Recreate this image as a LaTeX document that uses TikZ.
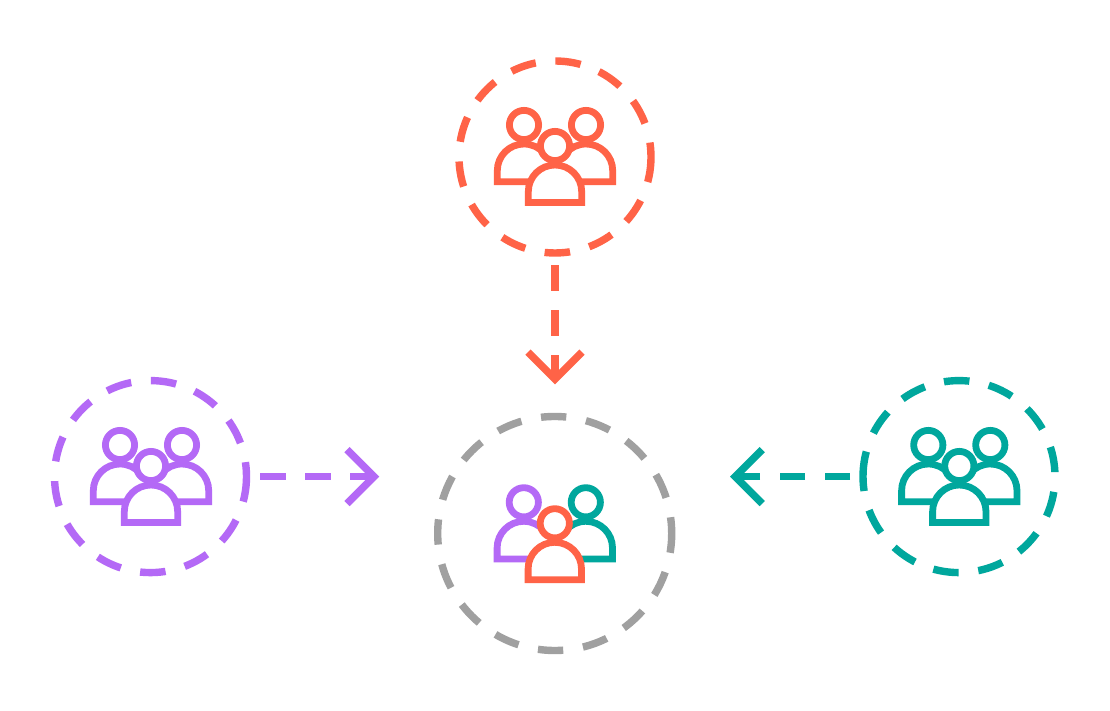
\documentclass[tikz,border=0pt]{standalone}
\usetikzlibrary{arrows.meta}
\definecolor{coral}{HTML}{FF6347}
\definecolor{violet}{HTML}{B469F6}
\definecolor{sea}{HTML}{00A79D}
\definecolor{stone}{HTML}{A0A0A0}
\tikzset{
  x=1pt,y=1pt,
  ring/.style={circle,draw=#1,line width=7.4pt,inner sep=0pt,outer sep=0pt,minimum size=192pt,
    dash pattern=on 25.5pt off 19.8pt,dash phase=11pt},
  bigring/.style={circle,draw=#1,line width=7.4pt,inner sep=0pt,outer sep=0pt,minimum size=234pt,
    dash pattern=on 25.3pt off 20pt,dash phase=9pt},
  flow/.style={draw=#1,line width=7.4pt,dash pattern=on 25.5pt off 19.5pt,shorten <=12.5pt,
    -{Straight Barb[length=27pt,width=54pt,line width=7.4pt,sharp,sep=0pt]}},
  pics/people/.style n args={3}{code={
    \draw[#1,line width=6.8pt,line join=miter] (-20,-24.7) -- (-57.7,-24.7) -- (-57.7,-13.7)
      arc[start angle=180,end angle=40,radius=26.7];
    \draw[#1,line width=6.8pt] (-31,32) circle[radius=14.6];
    \draw[#2,line width=6.8pt,line join=miter] (20,-24.7) -- (57.7,-24.7) -- (57.7,-13.7)
      arc[start angle=0,end angle=140,radius=26.7];
    \draw[#2,line width=6.8pt] (31,32) circle[radius=14.6];
    \draw[#3,fill=white,line width=6.8pt,line join=miter] (-26.7,-45.5) -- (-26.7,-34.7)
      arc[start angle=180,end angle=0,radius=26.7] -- (26.7,-45.5) -- cycle;
    \draw[#3,fill=white,line width=6.8pt] (0,11) circle[radius=14.6];
  }}
}
\begin{document}
\begin{tikzpicture}
\useasboundingbox (0,0) rectangle (1110,711);
\fill[white] (0,0) rectangle (1110,711);
\node[ring=coral] (top) at (555,554) {};
\node[ring=violet] (left) at (150.5,234.4) {};
\node[ring=sea,rotate=180] (right) at (959,234.4) {};
\node[bigring=stone] (merged) at (554.7,177.5) {};
\pic at (555,554) {people={coral}{coral}{coral}};
\pic at (151,234) {people={violet}{violet}{violet}};
\pic at (959.3,234) {people={sea}{sea}{sea}};
\pic at (554.8,176.7) {people={violet}{sea}{coral}};
\coordinate (toptip) at (555,326.7);
\coordinate (lefttip) at (379.3,234.4);
\coordinate (righttip) at (730,234.4);
\draw[flow=coral] (top.south) -- (toptip);
\draw[flow=violet,shorten <=13.5pt] (left.east) -- (lefttip);
% the right ring is turned by 180 degrees, so its east anchor faces left
\draw[flow=sea,shorten <=13pt] (right.east) -- (righttip);
\end{tikzpicture}
\end{document}
